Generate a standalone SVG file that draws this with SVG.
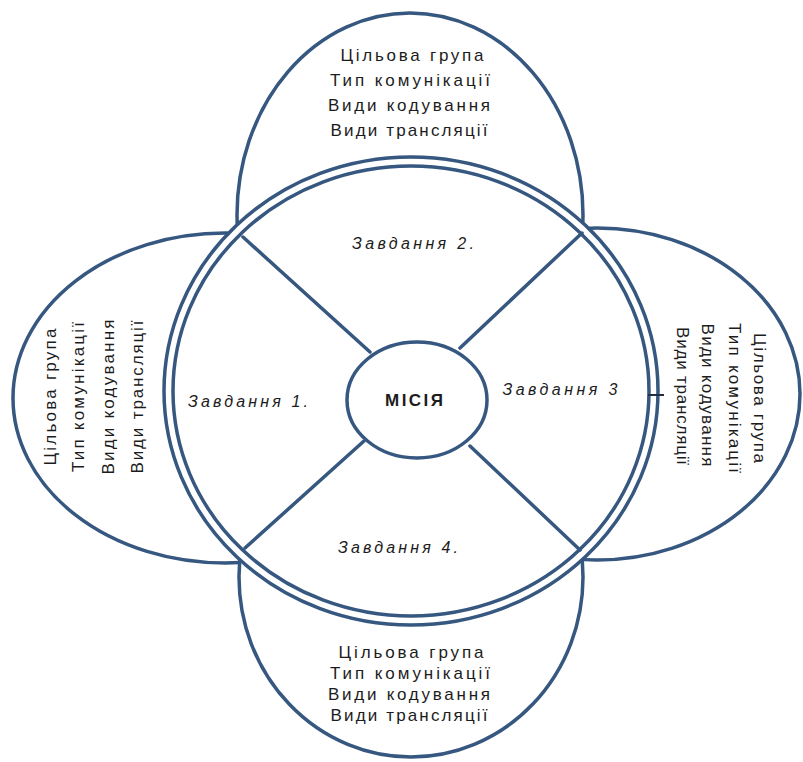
<svg xmlns="http://www.w3.org/2000/svg" width="803" height="762" viewBox="0 0 803 762">
  <style>
    .shape { fill: #ffffff; stroke: #36577f; stroke-width: 3.5; }
    .ring { fill: none; stroke: #36577f; stroke-width: 3.5; }
    .spoke { fill: none; stroke: #36577f; stroke-width: 3.5; stroke-linecap: round; }
    .item { font-family: "Liberation Sans", Arial, sans-serif; font-size: 17px; fill: #1c1c1c; text-anchor: middle; }
    .task { font-family: "Liberation Sans", Arial, sans-serif; font-size: 16px; font-style: italic; fill: #1c1c1c; text-anchor: middle; }
    .core { font-family: "Liberation Sans", Arial, sans-serif; font-size: 17px; font-weight: bold; fill: #1c1c1c; text-anchor: middle; }
  </style>
  <rect width="803" height="762" fill="#ffffff"/>

  <!-- outer petals (drawn first, partly covered by the central disc) -->
  <g id="petal-top">
    <ellipse class="shape" cx="410" cy="215" rx="173" ry="202"/>
    <text class="item" x="412" y="61" textLength="143" lengthAdjust="spacing">Цільова група</text>
    <text class="item" x="410" y="86" textLength="160" lengthAdjust="spacing">Тип комунікації</text>
    <text class="item" x="409" y="111" textLength="162" lengthAdjust="spacing">Види кодування</text>
    <text class="item" x="409" y="136" textLength="157" lengthAdjust="spacing">Види трансляції</text>
  </g>

  <g id="petal-left">
    <ellipse class="shape" cx="225" cy="398" rx="212" ry="165"/>
    <text class="item" transform="translate(56,397) rotate(-90)" textLength="137" lengthAdjust="spacing">Цільова група</text>
    <text class="item" transform="translate(84,397) rotate(-90)" textLength="150" lengthAdjust="spacing">Тип комунікації</text>
    <text class="item" transform="translate(114,397) rotate(-90)" textLength="155" lengthAdjust="spacing">Види кодування</text>
    <text class="item" transform="translate(143,397) rotate(-90)" textLength="153" lengthAdjust="spacing">Види трансляції</text>
  </g>

  <g id="petal-right">
    <ellipse class="shape" cx="597" cy="394" rx="203" ry="166"/>
    <text class="item" transform="translate(754,398) rotate(90)" textLength="130" lengthAdjust="spacing">Цільова група</text>
    <text class="item" transform="translate(729,398) rotate(90)" textLength="150" lengthAdjust="spacing">Тип комунікації</text>
    <text class="item" transform="translate(702,395) rotate(90)" textLength="143" lengthAdjust="spacing">Види кодування</text>
    <text class="item" transform="translate(677,396) rotate(90)" textLength="138" lengthAdjust="spacing">Види трансляції</text>
  </g>

  <g id="petal-bottom">
    <ellipse class="shape" cx="411" cy="577" rx="172" ry="180"/>
    <text class="item" x="411" y="658" textLength="145" lengthAdjust="spacing">Цільова група</text>
    <text class="item" x="410" y="679" textLength="160" lengthAdjust="spacing">Тип комунікації</text>
    <text class="item" x="409" y="700" textLength="162" lengthAdjust="spacing">Види кодування</text>
    <text class="item" x="409" y="721" textLength="157" lengthAdjust="spacing">Види трансляції</text>
  </g>

  <!-- central disc with double rim and the four task sectors -->
  <g id="tasks">
    <ellipse class="shape" cx="411" cy="391" rx="247" ry="234"/>
    <ellipse class="ring" cx="411" cy="391" rx="238" ry="225"/>
    <line x1="648" y1="395" x2="664" y2="395" stroke="#1f2f45" stroke-width="2"/>
    <text class="task" x="413" y="249" textLength="122" lengthAdjust="spacing">Завдання 2.</text>
    <text class="task" x="248" y="407" textLength="120" lengthAdjust="spacing">Завдання 1.</text>
    <text class="task" x="560" y="395" textLength="115" lengthAdjust="spacing">Завдання 3</text>
    <text class="task" x="398" y="553" textLength="120" lengthAdjust="spacing">Завдання 4.</text>
  </g>

  <!-- spokes between the mission hub and the rim -->
  <g id="connectors">
    <line class="spoke" x1="243" y1="237" x2="370" y2="352"/>
    <line class="spoke" x1="582" y1="233" x2="460" y2="348"/>
    <line class="spoke" x1="245" y1="548" x2="364" y2="441"/>
    <line class="spoke" x1="580" y1="550" x2="470" y2="446"/>
  </g>

  <g id="mission">
    <ellipse class="shape" cx="417" cy="400" rx="70" ry="58"/>
    <text class="core" x="414" y="406" textLength="58" lengthAdjust="spacing">МІСІЯ</text>
  </g>
</svg>
